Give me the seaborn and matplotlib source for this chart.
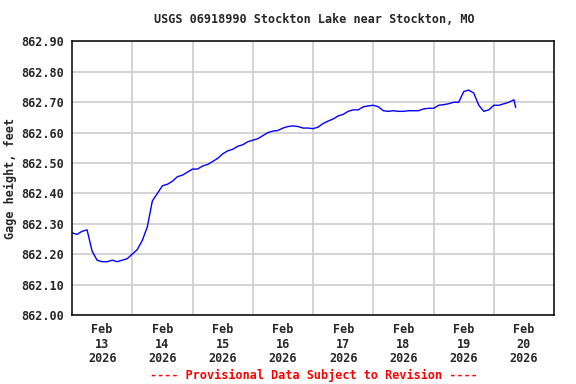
import matplotlib
matplotlib.use("Agg")

import numpy as np
import pandas as pd
import matplotlib.pyplot as plt
import seaborn as sns

# =====================
# DATA (2-hour steps from Feb 13 00:00)
# =====================
start = "2026-02-13 00:00"
gage_ft = [
    862.270, 862.265, 862.275, 862.280, 862.210, 862.180, 862.175, 862.175,
    862.180, 862.175, 862.180, 862.185, 862.200, 862.215, 862.245, 862.290,
    862.375, 862.400, 862.425, 862.430, 862.440, 862.455, 862.460, 862.470,
    862.480, 862.480, 862.490, 862.495, 862.505, 862.515, 862.530, 862.540,
    862.545, 862.555, 862.560, 862.570, 862.575, 862.580, 862.590, 862.600,
    862.605, 862.607, 862.615, 862.620, 862.622, 862.620, 862.615, 862.615,
    862.613, 862.618, 862.630, 862.638, 862.645, 862.655, 862.660, 862.670,
    862.675, 862.675, 862.685, 862.688, 862.690, 862.685, 862.672, 862.670,
    862.672, 862.670, 862.670, 862.672, 862.672, 862.672, 862.678, 862.680,
    862.680, 862.690, 862.692, 862.695, 862.700, 862.700, 862.735, 862.740,
    862.730, 862.690, 862.670, 862.675, 862.690, 862.690, 862.695, 862.700,
    862.708, 862.683,
]

y_ticks = [862.0, 862.1, 862.2, 862.3, 862.4, 862.5, 862.6, 862.7, 862.8, 862.9]
day_labels = ["13", "14", "15", "16", "17", "18", "19", "20"]

title = "USGS 06918990 Stockton Lake near Stockton, MO"
ylabel = "Gage height, feet"
footer = "---- Provisional Data Subject to Revision ----"

# last reading came in a little under 2 hours after the previous one
times = list(pd.date_range(start, periods=len(gage_ft) - 1, freq="2h"))
times.append(times[-1] + pd.Timedelta(minutes=40))
df = pd.DataFrame({"time": times, "gage": gage_ft})

# =====================
# PLOT
# =====================
sns.set_style("white")
plt.rcParams["font.family"] = ["DejaVu Sans Mono"]
plt.rcParams["font.weight"] = "bold"
fs = 8.5

fig = plt.figure(figsize=(5.76, 3.84), dpi=100)
ax = fig.add_axes([0.125, 0.18, 0.837, 0.712])

sns.lineplot(data=df, x="time", y="gage", ax=ax, color="#0000ff",
             linewidth=1.0)

t0 = pd.Timestamp(start)
ax.set_xlim(t0, t0 + pd.Timedelta(days=8))
ax.set_ylim(862.0, 862.9)

# labels at noon, grid at midnight
noon = [t0 + pd.Timedelta(days=i, hours=12) for i in range(len(day_labels))]
midnight = [t0 + pd.Timedelta(days=i) for i in range(1, 8)]
ax.set_xticks(noon)
ax.set_xticklabels([f"Feb\n{d}\n2026" for d in day_labels],
                   fontsize=fs, fontweight="bold", linespacing=1.15)
ax.set_xticks(midnight, minor=True)
ax.set_yticks(y_ticks)
ax.set_yticklabels([f"{v:.2f}" for v in y_ticks], fontsize=fs, fontweight="bold")

ax.grid(False)
ax.grid(True, which="minor", axis="x", color="#cccccc", linewidth=1.2)
ax.grid(True, which="major", axis="y", color="#cccccc", linewidth=1.2)
ax.set_axisbelow(True)
ax.tick_params(which="both", length=0, pad=6)

for s in ax.spines.values():
    s.set_color("black")
    s.set_linewidth(1.1)

ax.set_xlabel("")
ax.set_ylabel(ylabel, fontsize=fs, fontweight="bold", labelpad=3)
fig.text(0.545, 0.95, title, ha="center", va="center",
         fontsize=fs, fontweight="bold")
fig.text(0.545, 0.023, footer, ha="center", va="center",
         fontsize=fs, fontweight="bold", color="red")

fig.savefig("out.png", dpi=100)
plt.close(fig)
